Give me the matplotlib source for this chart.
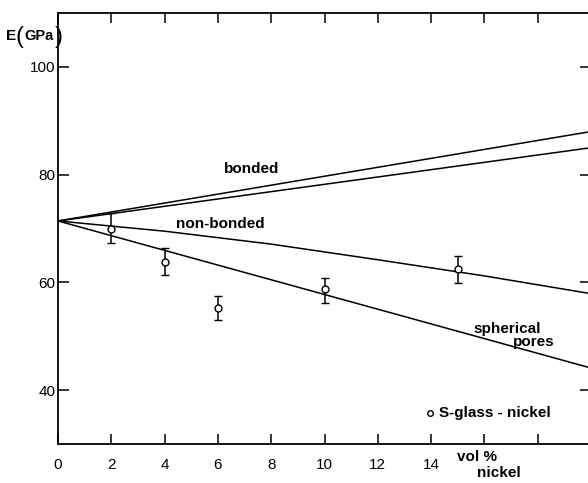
import numpy as np
from matplotlib import pyplot as plt

plt.rcParams['font.family'] = ['Liberation Sans', 'DejaVu Sans']

# measured points (S-glass - nickel), with error bar ends
vol_pct = [2, 4, 6, 10, 15]
E_measured = [70.0, 63.8, 55.3, 58.8, 62.4]
E_upper = [72.8, 66.3, 57.4, 60.9, 64.9]
E_lower = [67.4, 61.4, 53.0, 56.2, 59.8]

# model curves
line_x = [0, 20]
bonded_upper = [71.4, 88.0]
bonded_lower = [71.4, 85.0]
spherical_pores = [71.4, 44.1]
nonbonded_x = [0, 4, 8, 12, 16, 20]
nonbonded = [71.4, 69.5, 67.1, 64.2, 61.2, 57.9]

x_ticks = [0, 2, 4, 6, 8, 10, 12, 14, 16, 18]
x_tick_labels = ['0', '2', '4', '6', '8', '10', '12', '14', '', '']
y_ticks = [40, 60, 80, 100]
y_tick_labels = ['40', '60', '80', '100']

W, H = 588, 483
fig = plt.figure(figsize=(W / 100, H / 100), dpi=100)
ax = fig.add_axes([58 / W, 1 - 444 / H, 533 / W, 431 / H])

lw = 1.1
ax.plot(line_x, bonded_upper, color='black', lw=lw)
ax.plot(line_x, bonded_lower, color='black', lw=lw)
ax.plot(nonbonded_x, nonbonded, color='black', lw=lw)
ax.plot(line_x, spherical_pores, color='black', lw=lw)

yerr = [np.array(E_measured) - np.array(E_lower), np.array(E_upper) - np.array(E_measured)]
ax.errorbar(vol_pct, E_measured, yerr=yerr, fmt='o', mfc='white', mec='black', mew=1.0,
            ms=5, ecolor='black', elinewidth=1.1, capsize=3, capthick=1.1, zorder=3)

ax.set_xlim(0, 20)
ax.set_ylim(30, 110)

ax.set_xticks(x_ticks)
ax.set_xticklabels(x_tick_labels)
ax.set_yticks(y_ticks)
ax.set_yticklabels(y_tick_labels)
ax.tick_params(axis='x', direction='in', length=7, width=1.1, top=True, pad=10, labelsize=11)
ax.tick_params(axis='y', direction='in', length=8, width=1.1, right=True, pad=2, labelsize=11)
for s in ax.spines.values():
    s.set_linewidth(1.3)

txt = dict(fontsize=11, fontweight='bold', color='black')
ax.text(7.28, 81.0, 'bonded', ha='center', va='center', **txt)
ax.text(6.1, 70.9, 'non-bonded', ha='center', va='center', **txt)
ax.text(16.85, 51.4, 'spherical', ha='center', va='center', **txt)
ax.text(17.86, 49.0, 'pores', ha='center', va='center', **txt)

ax.plot([13.96], [35.7], 'o', mfc='white', mec='black', ms=4, mew=1.0)
ax.text(14.3, 35.7, 'S-glass - nickel', ha='left', va='center', **txt)

ax.text(15.74, 27.6, 'vol %', ha='center', va='center', clip_on=False, **txt)
ax.text(16.55, 24.6, 'nickel', ha='center', va='center', clip_on=False, **txt)

# y axis title with tall brackets
fig.text(6 / W, 1 - 36 / H, 'E', ha='left', va='center', **txt)
fig.text(15.5 / W, 1 - 37 / H, '(', ha='left', va='center', fontsize=17, color='black')
fig.text(24 / W, 1 - 36 / H, 'GPa', ha='left', va='center', fontsize=10.5,
         fontweight='bold', color='black')
fig.text(55 / W, 1 - 37 / H, ')', ha='left', va='center', fontsize=17, color='black')

fig.savefig('out.png', dpi=100)
